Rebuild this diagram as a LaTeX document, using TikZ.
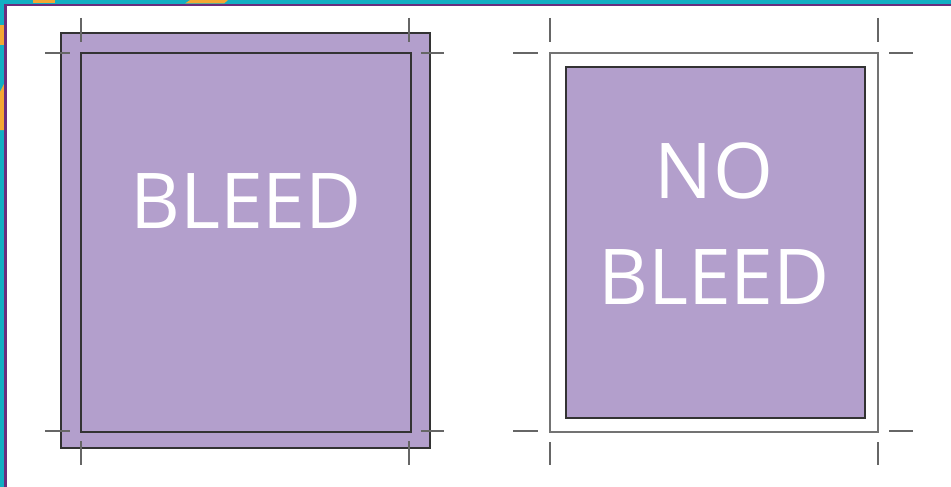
\documentclass[tikz,border=0pt]{standalone}
\usepackage{fontspec}
\setsansfont{Open Sans}
\usetikzlibrary{positioning}
\definecolor{lilac}{HTML}{B39FCC}
\definecolor{frameteal}{HTML}{12AEC3}
\definecolor{plum}{HTML}{6A2C7E}
\definecolor{amber}{HTML}{F4A734}

\begin{document}
\begin{tikzpicture}[x=1pt,y=-1pt,trim/.style={draw=black!80,line width=1.3pt},cropmark/.style={draw=black!60,line width=1.4pt},sheet/.style={draw=black!55,line width=1.3pt,fill=white},bigtext/.style={text=white,font=\sffamily\fontsize{77}{106}\selectfont,align=center,inner sep=0pt}]
\useasboundingbox (0,0) rectangle (951,487);
\fill[white] (0,0) rectangle (951,487);
% frame
\fill[frameteal] (0,0) rectangle (951,4);\fill[frameteal] (0,0) rectangle (4,487);
\fill[amber] (33,0) rectangle (55,3.5);\fill[amber] (185,3.5)--(190,0)--(228,0)--(224,3.5)--cycle;
\fill[amber] (0,25) rectangle (4,45);\fill[amber] (0,92)--(4,84)--(4,130)--(0,130)--cycle;
\fill[plum] (4,4) rectangle (951,6.5);\fill[plum] (4,4) rectangle (6.5,487);
% bleed
\filldraw[trim,fill=lilac] (61,33) rectangle (430,448);
\draw[trim] (81,53) rectangle (411,432);
\node[bigtext] (bleed) at (246,201) {BLEED};
\foreach \x in {81,409} {\draw[cropmark] (\x,18)--(\x,42);\draw[cropmark] (\x,441)--(\x,465);}
\foreach \y in {53,431} {\draw[cropmark] (45,\y)--(70,\y);\draw[cropmark] (421,\y)--(444,\y);}
% no bleed
\draw[sheet] (550,53) rectangle (878,432);
\filldraw[trim,fill=lilac] (566,67) rectangle (865,418);
\node[bigtext] (nobleed) at (714,224) {NO\\BLEED};
\foreach \x in {550,878} {\draw[cropmark] (\x,18)--(\x,42);\draw[cropmark] (\x,442)--(\x,465);}
\foreach \y in {53,431} {\draw[cropmark] (513,\y)--(538,\y);\draw[cropmark] (889,\y)--(913,\y);}
\end{tikzpicture}
\end{document}
